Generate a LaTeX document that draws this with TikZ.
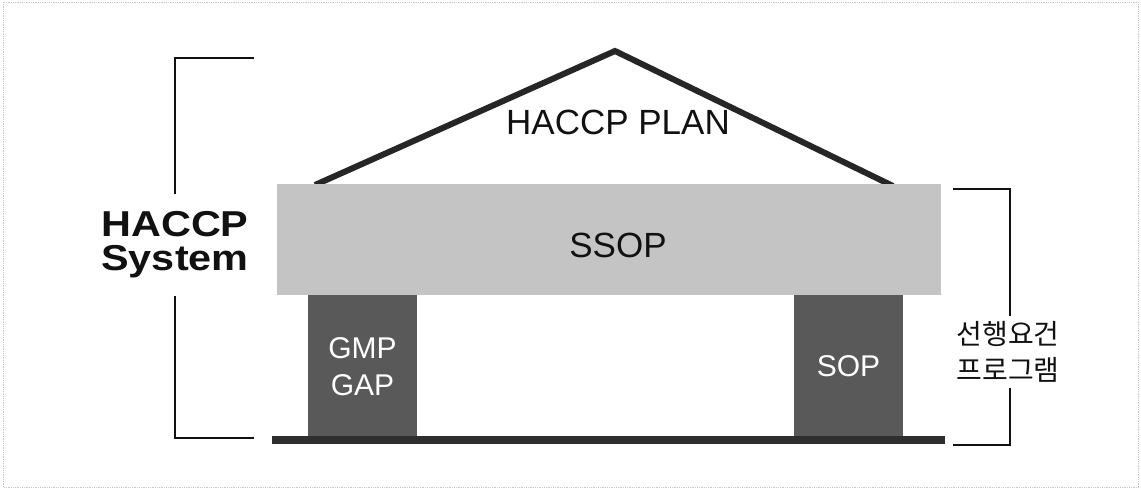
\documentclass[tikz,border=0pt]{standalone}
\usepackage{fontspec}
\setmainfont{Liberation Sans}
\newfontfamily\kofont{Noto Sans CJK KR}
\usepackage{tikz}
\usetikzlibrary{positioning}
\definecolor{Ink}{HTML}{111111}
\definecolor{Roof}{HTML}{262626}
\definecolor{Slab}{HTML}{C4C4C4}
\definecolor{Post}{HTML}{595959}
\definecolor{Floor}{HTML}{2E2E2E}
\definecolor{Frame}{HTML}{C8C8C8}
\tikzset{
  slab/.style={fill=Slab, draw=none, minimum width=664pt, minimum height=111pt, inner sep=0pt},
  post/.style={fill=Post, draw=none, minimum width=109pt, minimum height=142pt, inner sep=0pt, align=center, text=white, font=\fontsize{30}{37}\selectfont},
  floorbar/.style={fill=Floor, draw=none, minimum width=673pt, minimum height=8pt, inner sep=0pt},
  roofline/.style={draw=Roof, line width=6pt, line join=miter},
  bracket/.style={draw=Ink, line width=1.2pt},
  word/.style={text=Ink, font=\fontsize{35}{40}\selectfont},
  side/.style={fill=white, align=center, text=Ink}
}

\begin{document}
\begin{tikzpicture}[x=1pt, y=-1pt]
  \useasboundingbox (0,0) rectangle (1141,489);
  \draw[Frame, densely dotted, line width=0.8pt] (3,2) rectangle (1138,487);
  % roof and building
  \coordinate (apex) at (615,51);
  \draw[roofline] (315,185) -- (apex) -- (893,186);
  \node[word] (plan) at (618,122) {HACCP PLAN};
  \node[slab] (ssop) at (609,239.5) {};
  \node[word] (ssoplbl) at ([xshift=9pt, yshift=-6pt]ssop.center) {SSOP};
  \node[post, below right=0pt and 31pt of ssop.south west] (gmp) {GMP\\GAP};
  \node[post, below left=0pt and 38pt of ssop.south east] (sop) {SOP};
  \node[floorbar] (floor) at (608.5,440) {};
  % brackets
  \coordinate (lt) at (254,58);
  \coordinate (lb) at (254,438);
  \draw[bracket] (lt) -- ++(-79,0) |- (lb);
  \node[side, xscale=1.15, inner xsep=3pt, inner ysep=18pt, font=\fontsize{36}{34}\selectfont\bfseries] (sys) at (175,245) {HACCP\\System};
  \coordinate (rt) at (953,189);
  \coordinate (rb) at (953,445);
  \draw[bracket] (rt) -- ++(57,0) |- (rb);
  \node[side, inner xsep=3pt, inner ysep=5pt, font=\kofont\fontsize{28}{36}\selectfont] (pre) at (1008,352) {선행요건\\프로그램};
\end{tikzpicture}
\end{document}
